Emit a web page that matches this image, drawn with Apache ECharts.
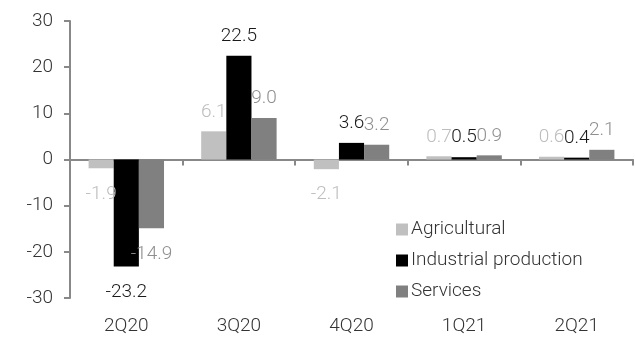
<!DOCTYPE html>
<html><head><meta charset="utf-8">
<script src="https://cdn.jsdelivr.net/npm/echarts@6/dist/echarts.min.js"></script>
<style>html,body{margin:0;padding:0;background:#fff}#c{width:635px;height:337px}</style>
</head><body><div id="c"></div>
<script>
const categories = ['2Q20', '3Q20', '4Q20', '1Q21', '2Q21'];
const agricultural = [-1.9, 6.1, -2.1, 0.7, 0.6];
const industrial = [-23.2, 22.5, 3.6, 0.5, 0.4];
const services = [-14.9, 9.0, 3.2, 0.9, 2.1];
const yTicks = [-30, -20, -10, 0, 10, 20, 30];

const FONT = 'Roboto, "DejaVu Sans", sans-serif';
const FW = 300;
const axisColor = '#888888';
const textColor = '#333333';

function items(vals) {
  return vals.map(v => ({
    value: v,
    label: v < 0
      ? { position: 'bottom', distance: 16 }
      : { position: 'top', distance: 10 }
  }));
}
function mk(name, vals, barColor, labelColor) {
  return {
    name, type: 'bar', xAxisIndex: 0, data: items(vals),
    barGap: '0%', barCategoryGap: '33%',
    itemStyle: { color: barColor },
    label: { show: true, color: labelColor, fontFamily: FONT, fontWeight: FW, fontSize: 19,
      formatter: p => p.value.toFixed(1) }
  };
}
const chart = echarts.init(document.getElementById('c'), null, { renderer: 'canvas' });
chart.setOption({
  animation: false,
  backgroundColor: '#fff',
  grid: { left: 70, right: 2, top: 21, bottom: 39, containLabel: false },
  legend: {
    orient: 'vertical', left: 391, top: 215, itemWidth: 12, itemHeight: 12, itemGap: 12,
    icon: 'rect',
    textStyle: { fontFamily: FONT, fontWeight: FW, fontSize: 19, lineHeight: 19, color: textColor, padding: [0, 0, 0, -2] },
    data: ['Agricultural', 'Industrial production', 'Services']
  },
  xAxis: [
    { type: 'category', data: categories, position: 'bottom',
      axisLine: { onZero: true, lineStyle: { color: axisColor, width: 2 } },
      axisTick: { show: true, length: 6, lineStyle: { color: axisColor, width: 2 } },
      axisLabel: { show: false } },
    { type: 'category', data: categories, position: 'bottom',
      axisLine: { show: false, onZero: false }, axisTick: { show: false },
      axisLabel: { show: true, margin: 19, fontFamily: FONT, fontWeight: FW, fontSize: 19, color: textColor } }
  ],
  yAxis: {
    type: 'value', min: yTicks[0], max: yTicks[yTicks.length - 1], interval: 10,
    axisLine: { show: true, lineStyle: { color: axisColor, width: 2 } },
    axisTick: { show: true, length: 6, lineStyle: { color: axisColor, width: 2 } },
    splitLine: { show: false },
    axisLabel: { margin: 17, fontFamily: FONT, fontWeight: FW, fontSize: 19, color: textColor }
  },
  series: [
    mk('Agricultural', agricultural, '#c0c0c0', '#bdbdbd'),
    mk('Industrial production', industrial, '#000000', '#1a1a1a'),
    mk('Services', services, '#808080', '#8f8f8f')
  ]
});
</script></body></html>
